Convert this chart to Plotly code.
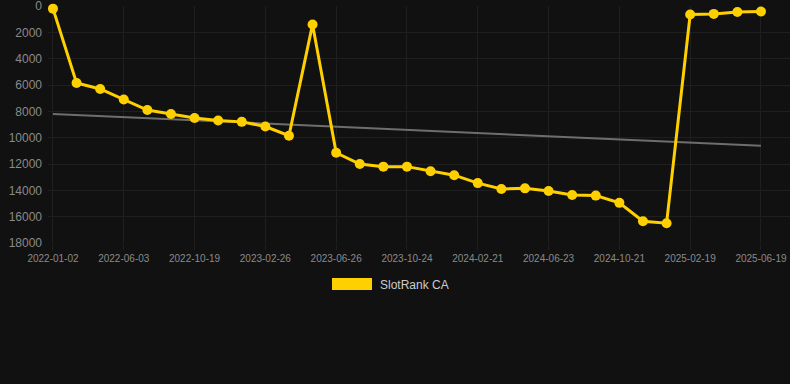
import plotly.graph_objects as go

dates = [
    "2022-01-02", "2022-02-20", "2022-04-12", "2022-06-03", "2022-07-20", "2022-09-04",
    "2022-10-19", "2022-12-01", "2023-01-13", "2023-02-26", "2023-04-10", "2023-05-18",
    "2023-06-26", "2023-08-05", "2023-09-14", "2023-10-24", "2023-12-03", "2024-01-12",
    "2024-02-21", "2024-04-02", "2024-05-13", "2024-06-23", "2024-08-02", "2024-09-11",
    "2024-10-21", "2024-12-01", "2025-01-10", "2025-02-19", "2025-03-31", "2025-05-10",
    "2025-06-19",
]
ranks = [
    200, 5850, 6300, 7100, 7900, 8200, 8500, 8700, 8800, 9150, 9850, 1400,
    11150, 12000, 12200, 12200, 12550, 12850, 13450, 13900, 13850, 14050, 14350, 14400,
    14950, 16350, 16500, 650, 600, 450, 420,
]
trend_dates = [dates[0], dates[-1]]
trend_values = [8200, 10620]
tick_labels = dates[::3]
y_ticks = [0, 2000, 4000, 6000, 8000, 10000, 12000, 14000, 16000, 18000]
series_name = "SlotRank CA"

YELLOW = "#FFD000"
BG = "#111111"
GRID = "#1f1f1f"

fig = go.Figure()
fig.add_trace(go.Scatter(
    x=trend_dates, y=trend_values, mode="lines",
    line=dict(color="#6e6e6e", width=2), showlegend=False, hoverinfo="skip",
))
fig.add_trace(go.Scatter(
    x=dates, y=ranks, mode="lines+markers", name=series_name,
    line=dict(color=YELLOW, width=3),
    marker=dict(color=YELLOW, size=10),
    showlegend=False, cliponaxis=False,
))

fig.update_layout(
    width=790, height=384,
    paper_bgcolor=BG, plot_bgcolor=BG,
    margin=dict(l=48, r=0, t=6, b=141),
    font=dict(family="Liberation Sans, Arial, sans-serif", color="#8a8a8a"),
    xaxis=dict(
        type="category", categoryorder="array", categoryarray=dates,
        range=[-0.21, 31.23],
        tickmode="array", tickvals=tick_labels, ticktext=tick_labels,
        tickfont=dict(size=10, color="#8a8a8a"),
        showgrid=True, gridcolor=GRID, gridwidth=1,
        ticks="outside", ticklen=6, tickcolor=GRID,
        showline=False, zeroline=False, ticklabeloverflow="allow",
    ),
    yaxis=dict(
        range=[18000, 0],
        tickmode="array", tickvals=y_ticks, ticktext=[str(v) for v in y_ticks],
        tickfont=dict(size=12, color="#8a8a8a"),
        showgrid=True, gridcolor=GRID, gridwidth=1,
        zeroline=False, showline=False, ticks="", ticklabelstandoff=5,
        ticklabeloverflow="allow",
    ),
    showlegend=False,
)

# legend drawn as a box + label
fig.add_shape(
    type="rect", xref="paper", yref="paper",
    x0=(332 - 48) / 742, x1=(372 - 48) / 742,
    y0=(243 - 278) / 237, y1=(243 - 290) / 237,
    fillcolor=YELLOW, line=dict(width=0),
)
fig.add_annotation(
    xref="paper", yref="paper", x=(378 - 48) / 742, y=(243 - 284.5) / 237,
    text=series_name, showarrow=False, xanchor="left", yanchor="middle",
    font=dict(size=12, color="#cccccc", family="Liberation Sans, Arial, sans-serif"),
)

fig.write_html(
    "out.html",
    config={"displayModeBar": False},
    post_script="document.body.style.margin='0';document.body.style.background='#111111';document.body.style.overflow='hidden';",
)
